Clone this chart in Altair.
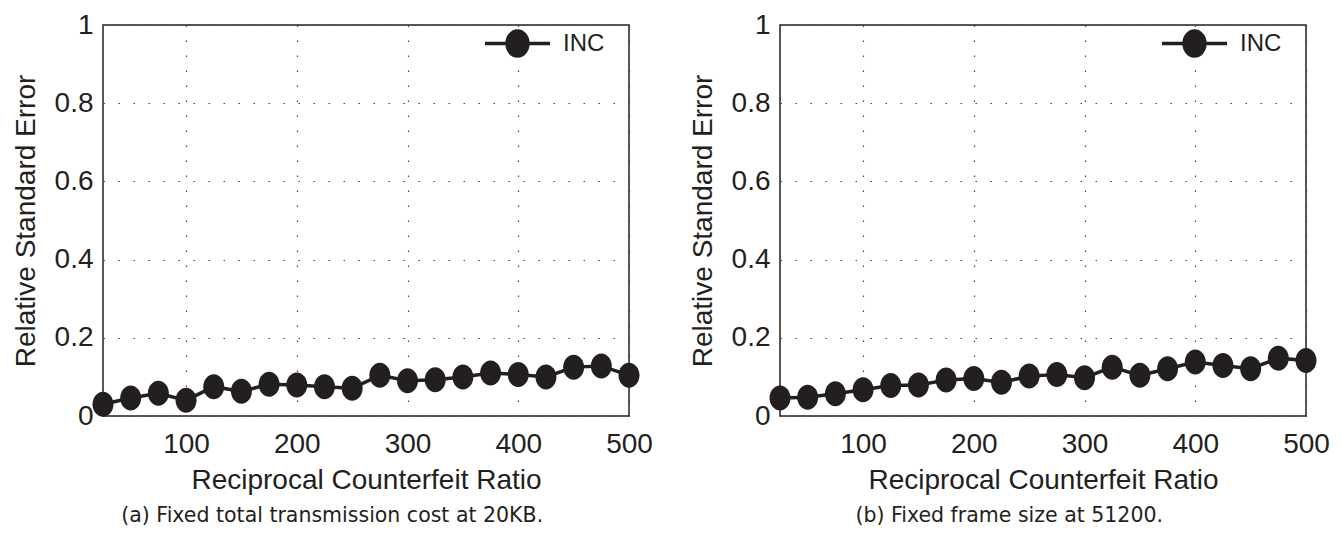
import altair as alt
import pandas as pd

# ---- data -------------------------------------------------------------
ratio = [25, 50, 75, 100, 125, 150, 175, 200, 225, 250,
         275, 300, 325, 350, 375, 400, 425, 450, 475, 500]
rse_a = [0.030, 0.046, 0.058, 0.040, 0.075, 0.063, 0.081, 0.079, 0.075, 0.071,
         0.104, 0.090, 0.093, 0.100, 0.110, 0.106, 0.100, 0.125, 0.128, 0.104]
rse_b = [0.046, 0.048, 0.057, 0.067, 0.078, 0.079, 0.092, 0.096, 0.086, 0.102,
         0.106, 0.098, 0.125, 0.104, 0.121, 0.138, 0.129, 0.121, 0.148, 0.142]
series_name = "INC"
x_ticks = [100, 200, 300, 400, 500]
y_ticks = [0, 0.2, 0.4, 0.6, 0.8, 1]
captions = ["(a) Fixed total transmission cost at 20KB.",
            "(b) Fixed frame size at 51200."]
x_title = "Reciprocal Counterfeit Ratio"
y_title = "Relative Standard Error"

INK = "#231f20"
AXIS_FONT = "Liberation Sans"
CAP_FONT = "DejaVu Sans"
W, H = 526, 391

ELLIPSE = "M-0.84,0A0.84,1 0 1,0 0.84,0A0.84,1 0 1,0 -0.84,0Z"
LEGEND_SYM = ("M-1,0L1,0M-0.32,0A0.32,0.385 0 1,0 0.32,0"
              "A0.32,0.385 0 1,0 -0.32,0Z")


def panel(values, caption):
    df = pd.DataFrame({"ratio": ratio, "rse": values, "series": series_name})
    x = alt.X("ratio:Q",
              scale=alt.Scale(domain=[25, 500], nice=False, zero=False),
              axis=alt.Axis(values=x_ticks, title=x_title, labelPadding=14,
                            titlePadding=8, labelFlush=False))
    y = alt.Y("rse:Q",
              scale=alt.Scale(domain=[0, 1], nice=False),
              axis=alt.Axis(values=y_ticks, format="~g", title=y_title,
                            labelPadding=10, titlePadding=14,
                            labelFlush=False))
    line = alt.Chart(df).mark_line(color=INK, strokeWidth=3.5).encode(x=x, y=y)
    pts = alt.Chart(df).mark_point(filled=True, shape=ELLIPSE, size=625,
                                   opacity=1).encode(
        x=x, y=y,
        color=alt.Color("series:N",
                        scale=alt.Scale(range=[INK]),
                        legend=alt.Legend(title=None, orient="none",
                                          legendX=W - 146, legendY=-16,
                                          symbolType=LEGEND_SYM,
                                          symbolSize=4225,
                                          symbolStrokeColor=INK,
                                          symbolStrokeWidth=3.5,
                                          symbolFillColor=INK,
                                          labelFont=AXIS_FONT,
                                          labelFontSize=24,
                                          labelColor=INK,
                                          labelOffset=11,
                                          padding=0)))
    return alt.layer(line, pts).properties(
        width=W, height=H,
        title=alt.TitleParams(caption, orient="bottom", font=CAP_FONT,
                              fontSize=20.5, fontWeight="normal", color=INK,
                              offset=12, frame="bounds", anchor="middle"))


chart = alt.hconcat(panel(rse_a, captions[0]), panel(rse_b, captions[1]),
                    spacing=34).resolve_scale(color="independent") \
    .resolve_legend(color="independent").properties(
        padding={"left": 3, "top": 0, "right": 0, "bottom": 0}
    ).configure_view(stroke=INK, strokeWidth=1.5).configure_axis(
        domain=False, ticks=False,
        labelFont=AXIS_FONT, labelFontSize=28, labelColor=INK,
        titleFont=AXIS_FONT, titleFontSize=28, titleFontWeight="normal",
        titleColor=INK,
        grid=True, gridColor="#444444", gridWidth=1.2, gridDash=[1.5, 13.5],
    )

chart.save("out.html", embed_options={"renderer": "svg", "actions": False})
